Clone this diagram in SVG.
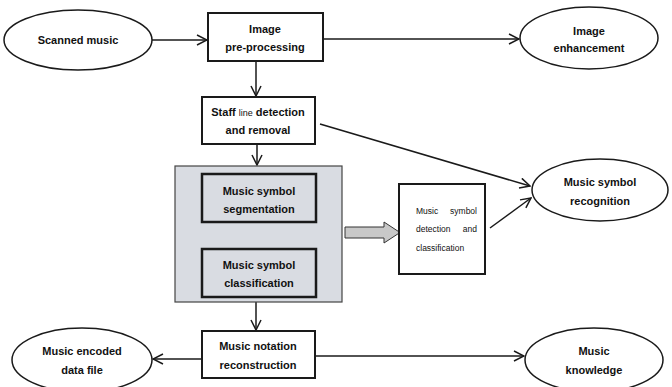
<svg xmlns="http://www.w3.org/2000/svg" width="672" height="387" viewBox="0 0 672 387">
<style>
.bx{fill:#fff;stroke:#1a1a1a;stroke-width:2}
.el{fill:#fff;stroke:#1a1a1a;stroke-width:1.5}
.t{font-family:"Liberation Sans",Arial,sans-serif;font-weight:bold;font-size:11px;fill:#111;text-anchor:middle}
.s{font-family:"Liberation Sans",Arial,sans-serif;font-size:8.5px;fill:#111}
.e{text-anchor:end}
.c{fill:none;stroke:#1a1a1a;stroke-width:1.5;marker-end:url(#ah)}
</style>
<defs>
<marker id="ah" viewBox="0 0 12 12" refX="11" refY="6" markerWidth="12" markerHeight="12" markerUnits="userSpaceOnUse" orient="auto">
<path d="M1,1 L11,6 L1,11" fill="none" stroke="#1a1a1a" stroke-width="1.5"/>
</marker>
</defs>
<rect width="672" height="387" fill="#fff"/>
<g id="connectors">
<line class="c" x1="152" y1="40" x2="207" y2="40"/>
<line class="c" x1="323" y1="39" x2="519" y2="39"/>
<line class="c" x1="256" y1="61" x2="256" y2="96"/>
<line class="c" x1="320" y1="124" x2="530" y2="186"/>
<line class="c" x1="257" y1="144" x2="257" y2="165"/>
<line class="c" x1="257" y1="222" x2="257" y2="247"/>
<line class="c" x1="490" y1="228" x2="531" y2="198"/>
<line class="c" x1="256" y1="302" x2="256" y2="330"/>
<line class="c" x1="202" y1="359" x2="153" y2="359"/>
<line class="c" x1="315" y1="356" x2="524" y2="356"/>
<path d="M345,227 L384,227 L384,222 L400,232.5 L384,243 L384,238 L345,238 Z" fill="#c8c8c8" stroke="#333" stroke-width="1"/>
</g>
<g id="scanned"><ellipse class="el" cx="78" cy="40" rx="74" ry="30"/><text class="t" x="78" y="44">Scanned music</text></g>
<g id="preproc"><rect class="bx" x="208" y="13" width="115" height="48"/><text class="t" x="265" y="33">Image</text><text class="t" x="265" y="51">pre-processing</text></g>
<g id="enhance"><ellipse class="el" cx="589" cy="38" rx="69" ry="31"/><text class="t" x="589" y="35">Image</text><text class="t" x="589" y="52">enhancement</text></g>
<g id="staff"><rect class="bx" x="202" y="97" width="113" height="47"/><text class="t" x="258" y="116">Staff <tspan font-weight="normal" font-size="9">line</tspan> detection</text><text class="t" x="258" y="134">and removal</text></g>
<g id="group"><rect x="175" y="166" width="167" height="136" fill="#d9dce2" stroke="#444" stroke-width="1.2"/></g>
<g id="segment"><rect x="202" y="174" width="114" height="48" fill="#d9dce2" stroke="#1a1a1a" stroke-width="2.5"/><text class="t" x="259" y="195">Music symbol</text><text class="t" x="259" y="213">segmentation</text></g>
<g id="classif"><rect x="202" y="249" width="114" height="48" fill="#d9dce2" stroke="#1a1a1a" stroke-width="2.5"/><text class="t" x="259" y="269">Music symbol</text><text class="t" x="259" y="287">classification</text></g>
<g id="detect"><rect class="bx" x="399" y="184" width="86" height="90" stroke-width="1.5"/><text class="s" x="416" y="214">Music</text><text class="s e" x="477" y="214">symbol</text><text class="s" x="416" y="232">detection</text><text class="s e" x="477" y="232">and</text><text class="s" x="416" y="251">classification</text></g>
<g id="recog"><ellipse class="el" cx="600" cy="190" rx="68" ry="31"/><text class="t" x="600" y="186">Music symbol</text><text class="t" x="600" y="205">recognition</text></g>
<g id="notation"><rect class="bx" x="202" y="331" width="113" height="47"/><text class="t" x="258" y="350">Music notation</text><text class="t" x="258" y="369">reconstruction</text></g>
<g id="encoded"><ellipse class="el" cx="82" cy="360" rx="70" ry="32"/><text class="t" x="82" y="355">Music encoded</text><text class="t" x="82" y="374">data file</text></g>
<g id="knowledge"><ellipse class="el" cx="594" cy="360" rx="69" ry="32"/><text class="t" x="594" y="355">Music</text><text class="t" x="594" y="374">knowledge</text></g>
</svg>
